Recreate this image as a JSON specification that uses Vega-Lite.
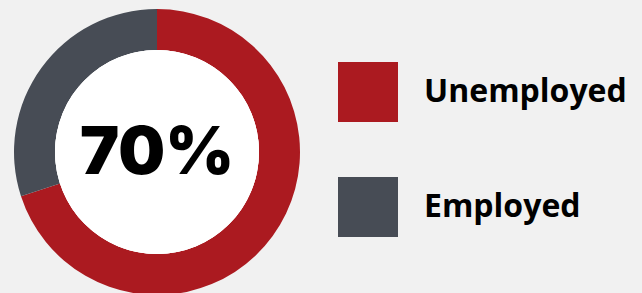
{
  "$schema": "https://vega.github.io/schema/vega-lite/v6.json",
  "width": 314,
  "height": 293,
  "autosize": {"type": "none"},
  "padding": {"left": 0, "top": 0, "right": 328, "bottom": 0},
  "background": "#f1f1f1",
  "config": {"view": {"stroke": null}},
  "data": {
    "values": [
      {"status": "Unemployed", "share": 70, "order": 1, "label": "70%"},
      {"status": "Employed", "share": 30, "order": 2, "label": "70%"}
    ]
  },
  "layer": [
    {
      "mark": {"type": "arc", "outerRadius": 143, "innerRadius": 102, "yOffset": 5.5},
      "encoding": {
        "theta": {"field": "share", "type": "quantitative", "stack": true},
        "order": {"field": "order", "type": "quantitative"},
        "color": {
          "field": "status",
          "type": "nominal",
          "sort": ["Unemployed", "Employed"],
          "scale": {"domain": ["Unemployed", "Employed"], "range": ["#ab1a20", "#474c55"]},
          "legend": {
            "orient": "none",
            "legendX": 338,
            "legendY": 62,
            "title": null,
            "padding": 0,
            "symbolType": "square",
            "symbolSize": 3600,
            "symbolStrokeWidth": 0,
            "symbolOpacity": 1,
            "labelFont": "Open Sans",
            "labelFontSize": 32,
            "labelFontWeight": "bold",
            "labelColor": "#000000",
            "labelOffset": 26,
            "rowPadding": 55,
            "labelLimit": 400
          }
        }
      }
    },
    {
      "mark": {"type": "arc", "outerRadius": 102, "innerRadius": 0, "yOffset": 5.5, "fill": "#ffffff"},
      "encoding": {}
    },
    {
      "transform": [{"filter": "datum.order == 1"}],
      "mark": {
        "type": "text",
        "font": "Inter",
        "fontWeight": 900,
        "fontSize": 66,
        "color": "#000000",
        "baseline": "middle",
        "align": "center",
        "yOffset": 7
      },
      "encoding": {"text": {"field": "label"}}
    }
  ]
}
